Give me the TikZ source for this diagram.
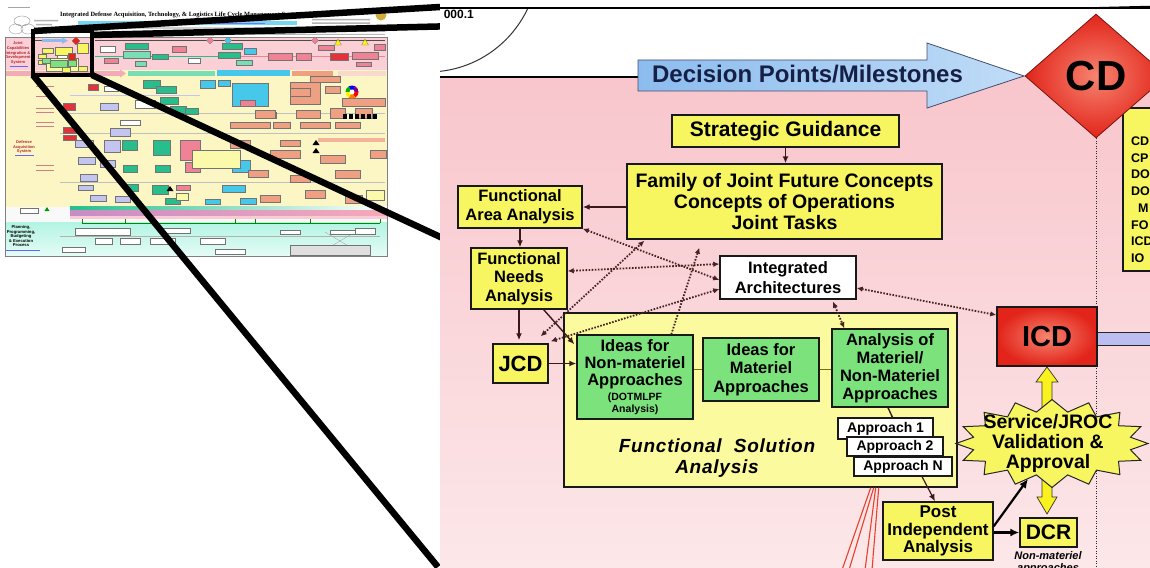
\documentclass[tikz,border=0pt]{standalone}
\usepackage{fontspec}
\setmainfont{Liberation Sans}
\newfontfamily\sheetserif{Liberation Serif}
\usetikzlibrary{arrows.meta,shapes.geometric,calc}

% panel colours
\definecolor{panelPinkTop}{RGB}{248,198,204}
\definecolor{panelPinkBot}{RGB}{252,231,233}
\definecolor{boxY}{RGB}{247,246,96}
\definecolor{fsaY}{RGB}{252,250,158}
\definecolor{boxG}{RGB}{124,226,124}
\definecolor{redIn}{RGB}{246,132,112}
\definecolor{redOut}{RGB}{226,36,26}
\definecolor{redEdge}{RGB}{120,20,15}
\definecolor{arrBlueA}{RGB}{140,188,238}
\definecolor{arrBlueB}{RGB}{192,220,247}
\definecolor{navyText}{RGB}{22,32,70}
\definecolor{dotC}{RGB}{70,35,35}
\definecolor{linkC}{RGB}{60,25,25}
\definecolor{oliveC}{RGB}{120,110,20}
\definecolor{starY}{RGB}{248,246,96}
\definecolor{arrY}{RGB}{250,242,30}
\definecolor{barLav}{RGB}{188,190,242}
\definecolor{fanRed}{RGB}{232,64,44}
% overview sheet colours
\definecolor{thPink}{RGB}{250,208,214}
\definecolor{thPinkM}{RGB}{245,170,185}
\definecolor{thPinkD}{RGB}{240,130,150}
\definecolor{thYel}{RGB}{252,246,196}
\definecolor{thTeal}{RGB}{40,190,140}
\definecolor{thTealL}{RGB}{120,222,182}
\definecolor{thCyan}{RGB}{70,200,235}
\definecolor{thLav}{RGB}{196,196,240}
\definecolor{thRed}{RGB}{228,50,60}
\definecolor{thSal}{RGB}{240,160,130}
\definecolor{thPale}{RGB}{250,250,170}
\definecolor{thMint}{RGB}{178,244,226}
\definecolor{thMintL}{RGB}{228,252,246}
\definecolor{thGold}{RGB}{205,172,60}
\definecolor{thLabel}{RGB}{180,40,50}

\newcommand\bfsz[2]{\fontsize{#1}{#2}\selectfont\bfseries}

\begin{document}
\begin{tikzpicture}[x=1pt,y=-1pt,
  tb/.style={draw=black!55, line width=0.25pt},
  ybox/.style={draw=black!90, line width=1.4pt, fill=boxY, inner sep=0pt, align=center},
  gbox/.style={ybox, fill=boxG},
  wbox/.style={ybox, fill=white},
  link/.style={draw=linkC, line width=1.4pt, -{Latex[length=7pt,width=6pt]}},
  heavylink/.style={draw=black, line width=2.2pt, -{Latex[length=9pt,width=8pt]}},
  joinline/.style={draw=oliveC, line width=1.4pt},
  dotlink/.style={draw=dotC, line width=1.8pt, dash pattern=on 1.6pt off 1.5pt,
    {Latex[length=6pt,width=5.5pt]}-{Latex[length=6pt,width=5.5pt]}},
  dotlinkup/.style={dotlink, -{Latex[length=6pt,width=5.5pt]}},
  zoomline/.style={line width=6.5pt, draw=black},
  fanline/.style={draw=fanRed, line width=1.1pt},
  txt/.style={inner sep=0pt, align=center},
]
\useasboundingbox (0,0) rectangle (1150,567);
\fill[white] (0,0) rectangle (1150,567);

% ================= overview sheet =================
\fill[thPink] (6,38) rectangle (387,70);
\fill[thYel] (6,70) rectangle (387,207);
\fill[white!95!gray] (6,207) rectangle (387,222);
\shade[top color=thMint, bottom color=thMintL] (6,222) rectangle (387,255);
\draw[gray, line width=0.4pt] (5,37) rectangle (387,256);

% header
\fill[gray!70] (8,7) rectangle (30,8.5);
\draw[gray!80, line width=0.4pt] (22,21) ellipse (8 and 5) (16,29) ellipse (7 and 5) (28,29) ellipse (7 and 5);
\fill[gray!60] (34,20) rectangle (58,21.3) (36,24) rectangle (52,25.3);
\node[anchor=west, inner sep=0pt, font=\sheetserif\fontsize{6.4}{7}\selectfont\bfseries] (sheettitle) at (60,15)
  {Integrated Defense Acquisition, Technology, \& Logistics Life Cycle Management System};
\fill[thCyan!75!white] (78,21) rectangle (297,25.5);
\fill[blue!55] (110,22.6) rectangle (265,23.8);
\fill[gray!55] (95,27.5) rectangle (300,28.6) (100,31) rectangle (385,32) (100,34) rectangle (385,35);
\fill[thGold] (381,15) circle (5.5);
\fill[gray!60] (312,19) rectangle (370,20.3) (312,22.5) rectangle (370,23.8) (312,26) rectangle (365,27.3);

% pink band (JCIDS)
\node[txt, text=thLabel, font=\fontsize{4}{4.6}\selectfont\bfseries] (lblJ) at (18,53)
  {Joint\\Capabilities\\Integration \&\\Development\\System};
\fill[blue!60] (10,66) rectangle (28,67);
\draw[black!70, line width=0.4pt] (95,40) -- (385,40);
\draw[thTeal, line width=0.7pt] (95,56) -- (220,56);
\draw[thPinkD, line width=0.7pt] (220,56) -- (385,56);
\foreach \xa/\ya/\xb/\yb/\cc in {
  125/43/148/49/thTeal, 123/51/150/58/thTealL, 152/54/168/59/thTeal, 135/61/146/66/thTealL,
  172/46/186/52/thPinkD, 188/58/200/63/white, 222/43/242/49/thTeal, 218/52/240/58/thTeal,
  236/60/252/65/thTealL, 244/48/256/54/thCyan, 268/53/292/60/thPinkD, 296/53/311/60/thPinkD,
  318/45/334/50/thPinkD, 330/53/348/60/thRed, 352/52/378/59/thPinkD, 356/62/371/66/thPinkD,
  374/44/385/50/thPinkD, 100/46/115/52/white, 104/58/118/63/thPinkD}
  \draw[tb, fill=\cc] (\xa,\ya) rectangle (\xb,\yb);
\foreach \xx/\cc in {210/thPinkD, 228/thCyan, 315/thPinkD}
  \draw[tb, fill=\cc] (\xx,37) -- (\xx+3.5,40.5) -- (\xx,44) -- (\xx-3.5,40.5) -- cycle;
\foreach \xx in {338,365}
  \draw[tb, fill=yellow] (\xx,39) -- (\xx+3.5,45) -- (\xx-3.5,45) -- cycle;

% strategy strip
\fill[thPinkM] (6,71) rectangle (120,76);
\fill[thPinkM] (120,69.5) -- (126,73.5) -- (120,77.5) -- cycle;
\fill[thTealL] (128,71) rectangle (215,76);
\fill[thCyan] (217,70) rectangle (290,76);
\fill[thSal] (292,71) rectangle (333,76);
\fill[thSal!40] (338,71) rectangle (386,76);

% yellow band (acquisition)
\node[txt, text=thLabel, font=\fontsize{4}{4.6}\selectfont\bfseries] (lblD) at (24,147)
  {Defense\\Acquisition\\System};
\fill[blue!60] (15,155) rectangle (34,156);
\foreach \yy in {86,96,108,112,122,126,165,170}
  \fill[thLabel!60] (36,\yy) rectangle (54,\yy+1.3);
\draw[thLav, line width=1.4pt] (70,95.5) -- (200,95.5);
\draw[gray!50, line width=0.4pt] (60,113) -- (385,113) (60,133) -- (385,133) (60,182) -- (385,182);
\fill[thSal!80] (318,138) rectangle (385,142);
\foreach \xa/\ya/\xb/\yb/\cc in {
  63/103/75/110/thRed, 63/127/76/133/thRed, 63/135/76/140/thRed, 88/84/98/90/thRed,
  100/103/118/110/thLav, 110/128/130/136/thLav, 75/140/93/147/thLav, 104/140/120/152/thLav,
  78/157/95/164/thLav, 100/160/115/167/thLav, 80/174/97/181/thLav, 78/185/93/190/thLav,
  90/195/106/201/thLav, 115/196/130/202/thLav,
  135/100/155/108/white, 120/120/140/125/white, 104/86/118/91/white,
  143/80/160/88/thTeal, 156/86/176/93/thTeal, 160/97/178/104/thTeal, 170/106/186/113/thTeal,
  122/140/137/150/thTeal, 123/165/137/172/thTeal, 125/184/138/191/thTeal, 153/140/170/155/thTeal,
  155/165/170/172/thTeal, 152/185/168/194/thTeal, 165/198/180/204/thTeal, 185/108/198/114/thTeal,
  232/83/268/106/thCyan, 200/80/215/88/thCyan, 218/80/230/86/thCyan, 232/160/250/172/thCyan,
  222/185/245/192/thCyan, 240/198/256/204/thCyan, 205/199/220/204/thCyan, 268/112/276/118/thCyan,
  180/140/200/160/thPinkD, 185/162/200/172/thPinkD, 176/185/190/190/thPinkD, 240/100/255/106/thPinkD,
  192/150/240/168/thPale, 176/193/188/200/thPale, 366/190/384/200/thPale,
  290/82/320/104/thSal, 310/76/340/82/thSal, 325/86/340/93/thSal, 255/110/275/118/thSal,
  296/110/320/118/thSal, 330/108/345/118/thSal, 355/108/372/118/thSal, 342/98/385/106/thSal,
  230/122/270/128/thSal, 273/122/290/128/thSal, 300/122/330/128/thSal, 335/122/360/128/thSal,
  270/150/300/158/thSal, 320/155/345/163/thSal, 335/170/360/178/thSal, 370/150/386/158/thSal,
  248/170/268/177/thSal, 290/175/310/182/thSal, 260/195/280/202/thSal, 305/190/325/198/thSal,
  345/195/362/203/thSal, 230/140/250/148/thSal, 280/140/300/146/thSal, 290/88/310/96/thSal}
  \draw[tb, fill=\cc] (\xa,\ya) rectangle (\xb,\yb);
\foreach \aa/\cc in {0/red, 60/orange, 120/yellow, 180/green!70!black, 240/blue, 300/violet}
  \fill[\cc] (352,92) -- ++(\aa:6.5) arc[start angle=\aa, delta angle=60, radius=6.5] -- cycle;
\fill[white] (352,92) circle (2.5);
\foreach \xx in {343,349,355,361,367,373}
  \fill[black] (\xx,114) rectangle ++(4,5);
\foreach \xx/\yy in {170/186, 316/140, 316/148}
  \fill[black] (\xx,\yy) -- (\xx+3.5,\yy+5) -- (\xx-3.5,\yy+5) -- cycle;

% cost / schedule bars
\shade[left color=thTeal, right color=white] (70,206) rectangle (387,209);
\shade[left color=violet!45, right color=thPinkM] (70,210) rectangle (387,215);
\fill[thPinkM!60] (70,216) rectangle (387,219);
\draw[green!55!black, line width=0.6pt] (82,223) -- (380,223);
\foreach \xx in {82,125,235,255,310,380}
  \draw[green!55!black, line width=0.6pt] (\xx,219) -- (\xx,223);
\draw[tb, fill=white] (20,208) rectangle (38,213);
\fill[green!60!black] (47,207) -- (49.5,211) -- (44.5,211) -- cycle;

% bottom band (PPBE)
\node[txt, font=\fontsize{4.2}{4.5}\selectfont\bfseries] (lblP) at (21,236)
  {Planning,\\Programming,\\Budgeting\\\& Execution\\Process};
\fill[blue!60] (6,249.5) rectangle (40,250.5);
\draw[gray!60, line width=0.4pt] (60,236) -- (380,236);
\draw[gray!70, line width=0.4pt] (325,232) -- (355,250) (355,232) -- (325,250);
\foreach \xa/\ya/\xb/\yb/\cc in {
  75/228/130/235/white, 95/238/112/244/white, 120/238/140/244/white, 62/247/85/252/white,
  150/238/175/244/white, 200/238/225/244/white, 280/230/300/234/white, 330/230/355/234/white,
  355/228/375/234/white, 215/249/245/254/white, 160/228/190/233/white, 290/245/370/255/gray!25}
  \draw[tb, fill=\cc] (\xa,\ya) rectangle (\xb,\yb);

% miniature of the magnified region
\fill[black!70] (35,40) rectangle (67,40.8);
\fill[arrBlueA] (42,39) rectangle (62,42.5);
\fill[arrBlueA] (62,37.5) -- (68,40.7) -- (62,44) -- cycle;
\draw[tb, fill=redOut] (76,37) -- (80,41) -- (76,45) -- (72,41) -- cycle;
\foreach \xa/\ya/\xb/\yb/\cc in {
  42/48/53/53/boxY, 55/47/72/55/boxY, 38/54/46/58/boxY, 38/60/46/64/boxY,
  46/58/78/71/fsaY, 42/58/50/63/boxG, 50/60/67/67/boxG, 68/59/76/66/boxG,
  57/55/67/58/white, 68/53/75/60/redOut, 77/43/88/53/boxY, 62/67/70/72/boxY, 78/66/87/71/starY}
  \draw[tb, fill=\cc] (\xa,\ya) rectangle (\xb,\yb);

% ================= magnifier outline =================
\draw[zoomline] (34,31) -- (440,7);
\draw[zoomline] (92,35) -- (1150,9);
\draw[zoomline] (92,75) -- (1150,567);
\draw[zoomline] (33,75) -- (438,567);
\draw[line width=4pt] (33,31) rectangle (92,75);

% ================= magnified panel =================
\begin{scope}
\clip (440,8) rectangle (1150,567);
\fill[white] (440,8) rectangle (1150,567);
\shade[top color=panelPinkTop, bottom color=panelPinkBot] (440,77) rectangle (1150,567);
\draw[black!80, line width=1pt] (428,-38) circle (110);
\node[anchor=east, inner sep=0pt, font=\bfsz{12}{13}] (dirnum) at (474,14) {000.1};
\draw[black, line width=2pt] (440,77) -- (640,77);

% milestone arrow
\shadedraw[left color=arrBlueA, right color=arrBlueB, draw=navyText!80, line width=0.8pt]
  (638,60) -- (927,60) -- (927,43) -- (1024,76) -- (927,108) -- (927,91) -- (638,91) -- cycle;
\node[anchor=base, inner sep=0pt, text=navyText, font=\bfsz{24}{26}] (dpm) at (807.5,83)
  {Decision Points/Milestones};

% document list at the right edge
\node[ybox, minimum width=40pt, minimum height=163pt] (doclist) at (1143,189.5) {};
\foreach \yy/\tt/\xx in {141/CD/1131, 158/CP/1131, 174/DO/1131, 191/DO/1131, 208/M/1138,
  225/FO/1131, 241/ICD/1131, 258/IO/1131}
  \node[anchor=west, inner sep=0pt, font=\bfsz{12.5}{14}] at (\xx,\yy) {\tt};

% concept decision
\node[diamond, draw=redEdge, line width=0.8pt, inner sep=0pt, minimum width=142pt, minimum height=124pt,
  shading=radial, inner color=redIn, outer color=redOut, font=\bfsz{42}{42}] (cd) at (1096,76) {CD};
\coordinate (cdEnd) at (1096,570);
\draw[black!85, line width=0.9pt, dash pattern=on 1pt off 1.5pt] (cd.south) -- (cdEnd);

% boxes
\node[ybox, minimum width=227pt, minimum height=32pt, font=\bfsz{21}{24}] (sg) at (785.5,131) {Strategic Guidance};
\node[ybox, minimum width=315pt, minimum height=75pt, font=\bfsz{19.5}{21}] (fam) at (784.5,201.5)
  {Family of Joint Future Concepts\\Concepts of Operations\\Joint Tasks};
\node[ybox, minimum width=124pt, minimum height=42pt, font=\bfsz{16.5}{19}] (faa) at (520,207)
  {Functional\\Area Analysis};
\node[ybox, minimum width=96pt, minimum height=61pt, font=\bfsz{16.5}{18.5}] (fna) at (519,278.5)
  {Functional\\Needs\\Analysis};
\node[ybox, minimum width=55pt, minimum height=39pt, font=\bfsz{22}{24}] (jcd) at (520.5,363.5) {JCD};
\node[wbox, minimum width=136pt, minimum height=43pt, font=\bfsz{16.5}{20}] (ia) at (788,277.5)
  {Integrated\\Architectures};

\node[draw=black!90, line width=1.4pt, fill=fsaY, minimum width=393pt, minimum height=174pt] (fsa) at (760.5,400) {};
\node[txt, font=\bfsz{19}{20.5}\itshape\addfontfeatures{LetterSpace=4}] (fsat) at (717,458)
  {Functional\ \ Solution\\Analysis};

\node[gbox, minimum width=116pt, minimum height=84pt] (inm) at (635,377) {};
\node[txt, font=\bfsz{16.5}{17}] (inmt) at (635,364.5) {Ideas for\\Non-materiel\\Approaches};
\node[txt, font=\bfsz{10.5}{12}] (inms) at (635,404) {(DOTMLPF\\Analysis)};
\node[gbox, minimum width=116pt, minimum height=63pt, font=\bfsz{16.5}{18.5}] (imm) at (761,369.5)
  {Ideas for\\Materiel\\Approaches};
\node[gbox, minimum width=116pt, minimum height=78pt, font=\bfsz{16.5}{18}] (anl) at (890,368)
  {Analysis of\\Materiel/\\Non-Materiel\\Approaches};

\node[wbox, line width=1.2pt, minimum width=95pt, minimum height=21pt, font=\bfsz{14}{16}] (ap1) at (885.5,428.5) {Approach 1};
\node[wbox, line width=1.2pt, minimum width=96pt, minimum height=19pt, font=\bfsz{14}{16}] (ap2) at (895,446.5) {Approach 2};
\node[wbox, line width=1.2pt, minimum width=98pt, minimum height=19pt, font=\bfsz{14}{16}] (apn) at (903,466.5) {Approach N};

\node[ybox, minimum width=110pt, minimum height=58pt, font=\bfsz{17}{17.5}] (pia) at (938,531)
  {Post\\Independent\\Analysis};
\node[ybox, minimum width=57pt, minimum height=29pt, font=\bfsz{21}{22}] (dcr) at (1048.5,532.5) {DCR};
\node[anchor=base, inner sep=0pt, font=\bfsz{11}{12}\itshape] (dcrnote) at (1048,559) {Non-materiel};
\node[anchor=base, inner sep=0pt, font=\bfsz{11}{12}\itshape] (dcrnote2) at (1048,571) {approaches};

% capability document and its link onward
\fill[barLav] (1097,332) rectangle (1155,345);
\draw[black!85, line width=1pt] (1097,332) -- (1155,332) (1097,345) -- (1155,345);

% validation arrows
\filldraw[fill=arrY, draw=black!80, line width=0.7pt]
  (1042,408) -- (1042,382) -- (1036,382) -- (1047,367) -- (1058,382) -- (1052,382) -- (1052,408) -- cycle;
\filldraw[fill=arrY, draw=black!80, line width=0.7pt]
  (1042,478) -- (1042,497) -- (1037,497) -- (1047,514) -- (1057,497) -- (1052,497) -- (1052,478) -- cycle;

\node[draw=black!90, line width=1.4pt, inner sep=0pt, minimum width=100pt, minimum height=59pt,
  shading=radial, inner color=redIn, outer color=redOut, font=\bfsz{29}{30}] (icd) at (1047,336.5) {ICD};

% validation starburst
\filldraw[fill=starY, draw=black!85, line width=1pt]
  plot[domain=0:360, samples=33, variable=\t]
  ({1052+(88+8*cos(16*\t))*cos(\t)}, {443.5+(38+6*cos(16*\t))*sin(\t)}) -- cycle;
\coordinate (star) at (1052,443);
\coordinate (starTip) at (1028,479);
\node[txt, font=\bfsz{19.5}{20}] (jroc) at (1048,443) {Service/JROC\\Validation \&\\Approval};

% solid connectors
\draw[link] (sg.south) -- (sg.south |- fam.north);
\draw[link] (fam.west |- faa.east) -- (faa.east);
\draw[link] (faa.south) -- (faa.south |- fna.north);
\draw[link] (fna.south) -- ($(fna.south |- jcd.north)+(0,-3)$);
\draw[link] (jcd.east) -- (jcd.east -| inm.west);
\draw[link] ($(fna.south east)+(-24,0)$) -- ($(inm.north west)+(-2,10)$);
\draw[joinline] (inm.east |- imm.east) -- (imm.west);
\draw[joinline] (imm.east) -- (imm.east -| anl.west);
\draw[linkC, line width=1.4pt] ($(anl.south)+(-2,0)$) -- ($(ap1.north)+(7,0)$);
\draw[link, line width=1.2pt] ($(apn.south)+(19,0)$) -- ($(pia.north)+(-3,0)$);
\draw[heavylink] (pia.east |- dcr.west) -- (dcr.west);
\draw[heavylink] ($(pia.north east)+(0,25)$) -- (starTip);

% dotted links
\draw[dotlink] (faa.south east) -- ($(ia.west)+(0,2.5)$);
\draw[dotlink] ($(fna.east)+(0,-7.5)$) -- ($(ia.west)+(0,-13.5)$);
\draw[dotlink] ($(jcd.north east)+(-8,-7)$) -- ($(fam.south west)+(18,1)$);
\draw[dotlink] ($(jcd.north east)+(2,-2)$) -- ($(ia.west)+(0,11.5)$);
\draw[dotlinkup] ($(inm.north west)+(95,0)$) -- ($(fam.south west)+(73,8)$);
\draw[dotlink] ($(ia.east)+(0,10.5)$) -- ($(icd.west)+(0,-21.5)$);
\draw[dotlink] ($(ia.south)+(45,2)$) -- ($(anl.north west)+(13,0)$);

% red links leaving the solution analysis
\coordinate (fanA) at (842,570);
\coordinate (fanB) at (849,570);
\coordinate (fanC) at (865,570);
\coordinate (fanD) at (872,570);
\draw[fanline] ($(fsa.south east)+(-87,0)$) -- (fanA);
\draw[fanline] ($(fsa.south east)+(-84,0)$) -- (fanB);
\draw[fanline] ($(fsa.south east)+(-82,0)$) -- (fanC);
\draw[fanline] ($(fsa.south east)+(-79,0)$) -- (fanD);
\end{scope}
\draw[black, line width=2.5pt] (440,8) -- (1150,8);

\end{tikzpicture}
\end{document}
